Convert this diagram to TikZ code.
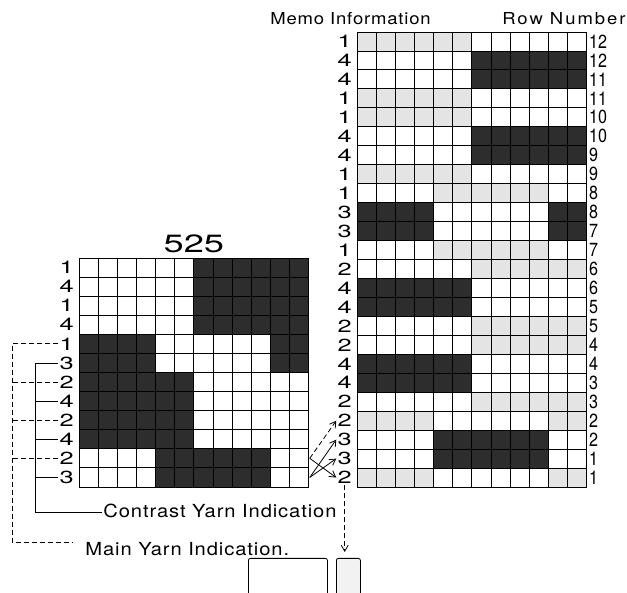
\documentclass[tikz,border=0pt]{standalone}
\usepackage{fontspec}
\setmainfont{TeX Gyre Heros}
\newfontfamily\digitfont[FakeStretch=1.45]{TeX Gyre Heros}
\newfontfamily\narrowfont[FakeStretch=0.85]{TeX Gyre Heros}
\newfontfamily\capsfont[FakeStretch=1.12, LetterSpace=5]{TeX Gyre Heros}
\usetikzlibrary{arrows.meta, positioning}
\definecolor{stipdark}{RGB}{45,45,45}
\definecolor{stiplight}{RGB}{228,228,228}

\newcommand{\lblfont}{\digitfont\fontsize{17.5}{17.5}\selectfont}
\newcommand{\numfont}{\narrowfont\fontsize{19}{19}\selectfont}
\newcommand{\titlefont}{\digitfont\fontsize{25}{25}\selectfont}
\newcommand{\capfont}{\capsfont\fontsize{18}{18}\selectfont}
\newcommand{\hdrfont}{\capsfont\fontsize{16.5}{16.5}\selectfont}

\begin{document}
\begin{tikzpicture}[x=1pt, y=-1pt, line width=0.8pt,
    every node/.style={inner sep=1pt},
    cellgrid/.style={line width=0.9pt},
    darkcell/.style={fill=stipdark},
    lightcell/.style={fill=stiplight},
    rowlbl/.style={font=\lblfont, anchor=east},
    rownum/.style={font=\numfont, anchor=west},
    caption/.style={font=\capfont, anchor=base west},
    mainline/.style={dash pattern=on 5pt off 3pt},
    tip/.style={-{Straight Barb[length=6pt, width=7pt]}}]
\useasboundingbox (0,0) rectangle (627,593);

% pattern chart 525
\begin{scope}[shift={(79pt,-258pt)}, x=19.15pt, y=-19.08pt]
  \foreach \a/\b/\c/\d in {6/0/12/4, 0/4/4/6, 10/4/12/6, 0/6/6/10, 4/10/10/12}
    \fill[darkcell] (\a,\b) rectangle (\c,\d);
  \foreach \k in {0,...,12} {
    \draw[cellgrid] (\k,0) -- (\k,12);
    \draw[cellgrid] (0,\k) -- (12,\k);
  }
  \foreach \m [count=\i from 0] in {1,4,1,4,1,3,2,4,2,4,2,3}
    \node[rowlbl] (ml-\i) at (-0.2,\i+0.5) {\m};
  \node[font=\titlefont] (title) at (6,-0.72) {525};
  \coordinate (src-a) at (12.05,10.5);
  \coordinate (src-b) at (12.05,11.5);
\end{scope}

% knitted rows with memo information
\begin{scope}[shift={(357pt,-32pt)}, x=19.15pt, y=-18.96pt]
  \foreach \a/\b/\c/\d in {0/0/6/1, 0/3/6/5, 0/7/6/8, 4/8/10/9, 4/11/10/12,
      6/12/12/13, 6/15/12/17, 6/19/12/20, 0/20/4/21, 10/20/12/21, 0/23/4/24, 10/23/12/24}
    \fill[lightcell] (\a,\b) rectangle (\c,\d);
  \foreach \a/\b/\c/\d in {6/1/12/3, 6/5/12/7, 0/9/4/11, 10/9/12/11,
      0/13/6/15, 0/17/6/19, 4/21/10/23}
    \fill[darkcell] (\a,\b) rectangle (\c,\d);
  \foreach \k in {0,...,12}
    \draw[cellgrid] (\k,0) -- (\k,24);
  \foreach \k in {0,...,24}
    \draw[cellgrid] (0,\k) -- (12,\k);
  \foreach \m [count=\i from 0] in {1,4,4,1,1,4,4,1,1,3,3,1,2,4,4,2,2,4,4,2,2,3,3,2}
    \node[rowlbl] (mr-\i) at (-0.2,\i+0.5) {\m};
  \foreach \n [count=\i from 0] in {12,12,11,11,10,10,9,9,8,8,7,7,6,6,5,5,4,4,3,3,2,2,1,1}
    \node[rownum] (rn-\i) at (12.05,\i+0.5) {\n};
\end{scope}

\node[font=\hdrfont, anchor=base west] (memohdr) at (269,25) {Memo Information};
\node[font=\hdrfont, anchor=base east] (rowhdr) at (627,25)
  {\addfontfeatures{LetterSpace=12}Row Number};

\node[caption] (contrast) at (102,518) {Contrast Yarn Indication};
\node[caption] (mainyarn) at (84,555) {Main Yarn Indication.};

\node[draw, rounded corners=2pt, minimum width=79pt, minimum height=50pt,
      anchor=north west] (selbtn) at (248,558) {};
\node[draw, rounded corners=2pt, fill=black!5, minimum width=24pt,
      minimum height=50pt, anchor=north west] (feedbtn) at (336,558) {};

\coordinate (mainbus) at (12,542);
\coordinate (mainend) at (72,542);
\coordinate (contbus) at (35,512);

% yarn indication leaders
\draw[mainline] (ml-4.west) -| (mainbus) -- (mainend);
\foreach \i in {6,8,10}
  \draw[mainline] (ml-\i.west) -- (ml-\i.west -| mainbus);
\draw (ml-5.west) -| (contbus) -- (contbus -| contrast.west);
\foreach \i in {7,9,11}
  \draw (ml-\i.west) -- (ml-\i.west -| contbus);

\draw[mainline, tip] (src-a) -- (mr-20.west);
\draw[tip] (src-a) -- (mr-23.west);
\draw[tip] (src-b) -- (mr-21.west);
\draw[tip] (src-b) -- (mr-22.west);
\draw[mainline, tip, shorten >=6pt] (mr-23.south) -- (mr-23.south |- feedbtn.north);
\end{tikzpicture}
\end{document}
